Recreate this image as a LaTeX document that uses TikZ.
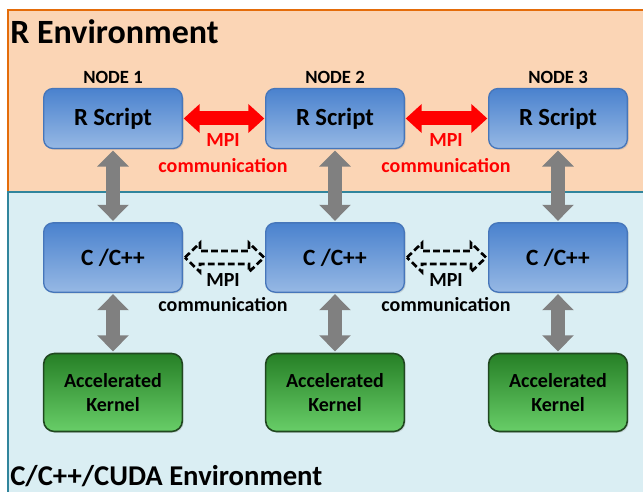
\documentclass[tikz,border=0pt]{standalone}
\usepackage{fontspec}
\setmainfont{Carlito}
\usetikzlibrary{arrows.meta}
\usetikzlibrary{shadows}

\definecolor{renvfill}{RGB}{251,213,181}
\definecolor{renvline}{RGB}{228,108,10}
\definecolor{cenvfill}{RGB}{218,238,243}
\definecolor{cenvline}{RGB}{49,133,156}
\definecolor{boxtop}{RGB}{74,130,206}
\definecolor{boxbot}{RGB}{150,184,228}
\definecolor{boxline}{RGB}{70,118,186}
\definecolor{kerntop}{RGB}{38,128,38}
\definecolor{kernbot}{RGB}{104,206,104}
\definecolor{kernline}{RGB}{32,72,32}
\definecolor{linkgray}{RGB}{128,128,128}

\tikzset{
  bluebox/.style={rectangle, rounded corners=7pt, draw=boxline, line width=1pt,
    top color=boxtop, bottom color=boxbot, minimum width=104pt,
    drop shadow={opacity=0.25, shadow xshift=1pt, shadow yshift=-1pt}},
  rbox/.style={bluebox, minimum height=45pt, font=\bfseries\fontsize{18.5}{22}\selectfont},
  cbox/.style={bluebox, minimum height=52pt, font=\bfseries\fontsize{17.5}{21}\selectfont},
  kbox/.style={rectangle, rounded corners=8pt, draw=kernline, line width=1.2pt,
    top color=kerntop, bottom color=kernbot, minimum width=104pt, minimum height=58.5pt,
    align=center, font=\bfseries\fontsize{15}{18}\selectfont,
    drop shadow={opacity=0.25, shadow xshift=1pt, shadow yshift=-1pt}},
  toplbl/.style={inner sep=0pt, font=\bfseries\fontsize{14}{16}\selectfont},
  envlbl/.style={inner sep=0pt, anchor=west},
  grayarr/.style={linkgray, line width=11pt,
    {Triangle[length=12pt,width=23pt]}-{Triangle[length=12pt,width=23pt]},
    shorten <=1pt, shorten >=1pt},
  redarr/.style={red, line width=10.5pt,
    {Triangle[length=12pt,width=21pt]}-{Triangle[length=12pt,width=21pt]},
    shorten <=0.5pt, shorten >=0.5pt},
  dashline/.style={draw=black, line width=2pt, dash pattern=on 5pt off 2.5pt, line join=miter},
  redlbl/.style={red, align=center, font=\bfseries\fontsize{15}{19.5}\selectfont},
  blklbl/.style={black, align=center, font=\bfseries\fontsize{15}{19}\selectfont}
}

% one node column: label, R side, C side, kernel
\newcommand{\nodestack}[2]{
  \node[toplbl] (n#1) at (#2,77.5) {NODE #1};
  \node[rbox] (r#1) at (#2,118.5) {R Script};
  \node[cbox] (c#1) at (#2,257.5) {C /C++};
  \node[kbox] (k#1) at (#2,392.5) {Accelerated\\Kernel};
  \draw[grayarr] (r#1) -- (c#1);
  \draw[grayarr] (c#1) -- (k#1);
}
% MPI links between two columns
\newcommand{\mpilinks}[3]{
  \draw[redarr] (r#1) -- (r#2);
  \node[redlbl] (rm#1#2) at (#3,153) {MPI\\communication};
  \draw[dashline] (c#1.east) ++(2,0) -- ++(15,-14.5) -- ++(0,8) -- ++(49,0) -- ++(0,-8)
        -- ++(15,14.5) -- ++(-15,14.5) -- ++(0,-8) -- ++(-49,0) -- ++(0,8) -- cycle;
  \node[blklbl] (cm#1#2) at (#3,292.5) {MPI\\communication};
}

\begin{document}
\begin{tikzpicture}[x=0.75pt,y=-0.75pt]
        \useasboundingbox (0,0) rectangle (643,492);
        \clip (0,0) rectangle (643,492);

        % environments
        \draw[renvline, fill=renvfill, line width=1.5pt] (8,10) rectangle (660,192);
        \draw[cenvline, fill=cenvfill, line width=1.5pt] (8,192) rectangle (660,510);
        \node[envlbl, font=\bfseries\fontsize{25.5}{28}\selectfont] (renv) at (10,32) {R Environment};
        \node[envlbl, font=\bfseries\fontsize{21.5}{24}\selectfont] (cenv) at (10,476) {C/C++/CUDA Environment};

        % nodes
        \nodestack{1}{113}
        \nodestack{2}{335}
        \nodestack{3}{558}

        % communication
        \mpilinks{1}{2}{223}
        \mpilinks{2}{3}{446}
\end{tikzpicture}
\end{document}
